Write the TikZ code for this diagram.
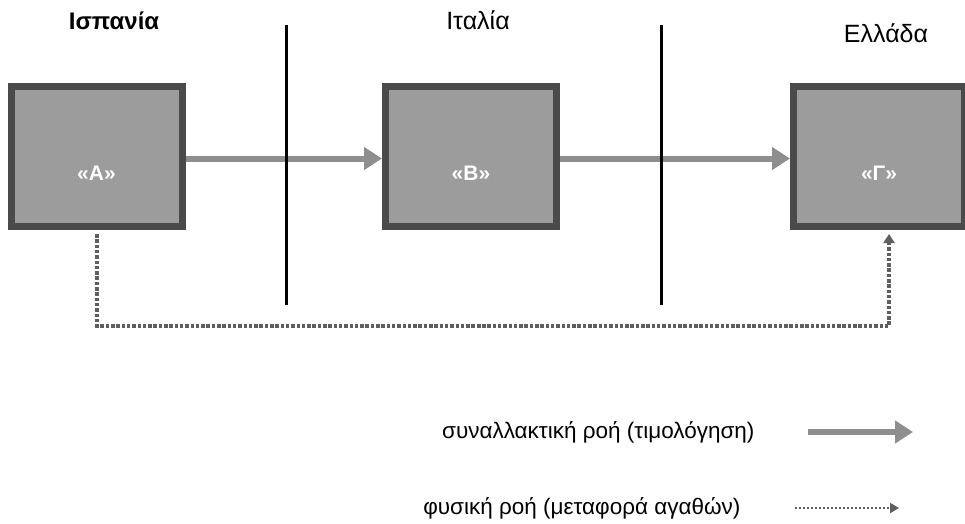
\documentclass[tikz,border=0pt]{standalone}
\usepackage{fontspec}
\setmainfont{Liberation Sans}
\usetikzlibrary{arrows.meta}
\definecolor{boxfill}{HTML}{9C9C9C}
\definecolor{boxline}{HTML}{4A4A4A}
\definecolor{flowgray}{HTML}{8E8E8E}
\definecolor{dotgray}{HTML}{5E5E5E}
\begin{document}
\begin{tikzpicture}[x=1pt,y=-1pt,
  party/.style={draw=boxline, fill=boxfill, line width=7pt, minimum width=171pt, minimum height=140pt, inner sep=0pt},
  partylabel/.style={text=white, font=\fontsize{21}{24}\selectfont\bfseries},
  country/.style={font=\fontsize{25}{28}\selectfont},
  legendtext/.style={font=\fontsize{22.5}{26}\selectfont, anchor=east},
  txflow/.style={draw=flowgray, line width=6pt, -{Triangle[length=18pt,width=22pt]}},
  physflow/.style={draw=dotgray, line width=3.5pt, dash pattern=on 3.5pt off 1.8pt, -{Triangle[length=9pt,width=11pt]}},
  border/.style={draw=black, line width=3pt}
]
\useasboundingbox (0,0) rectangle (965,523);
% boxes
\node[party] (A) at (96.5,156.5) {};
\node[party] (B) at (471,156.5) {};
\node[party] (G) at (879,156.5) {};
\node[partylabel] (Al) at (96.5,173) {«A»};
\node[partylabel] (Bl) at (471,173) {«B»};
\node[partylabel] (Gl) at (879,173) {«Γ»};
% country labels
\node[country, font=\fontsize{24}{28}\selectfont\bfseries] (es) at (114,21) {Ισπανία};
\node[country] (it) at (478,20) {Ιταλία};
\node[country] (gr) at (886,33) {Ελλάδα};
% borders
\coordinate (b1t) at (286,25);
\coordinate (b1b) at (286,305);
\coordinate (b2t) at (661,25);
\coordinate (b2b) at (661,305);
% transaction flows
\draw[txflow] ([yshift=-2pt]A.east) -- ([yshift=-2pt]B.west);
\draw[txflow] ([yshift=-2pt]B.east) -- ([yshift=-2pt]G.west);
\draw[border] (b1t) -- (b1b);
\draw[border] (b2t) -- (b2b);
% physical flow
\coordinate (pA) at (97,234);
\coordinate (pG) at (889,234);
\draw[physflow] (pA) |- (480,326) -| (pG);
% legend
\node[legendtext] (l1) at (758,432) {συναλλακτική ροή (τιμολόγηση)};
\node[legendtext] (l2) at (744,508) {φυσική ροή (μεταφορά αγαθών)};
\coordinate (l1s) at (808,432);
\coordinate (l1e) at (913,432);
\coordinate (l2s) at (795,508);
\coordinate (l2e) at (899,508);
\draw[txflow] (l1s) -- (l1e);
\draw[physflow, line width=2pt, dash pattern=on 2pt off 2pt, -{Triangle[length=9pt,width=10pt]}] (l2s) -- (l2e);
\end{tikzpicture}
\end{document}
